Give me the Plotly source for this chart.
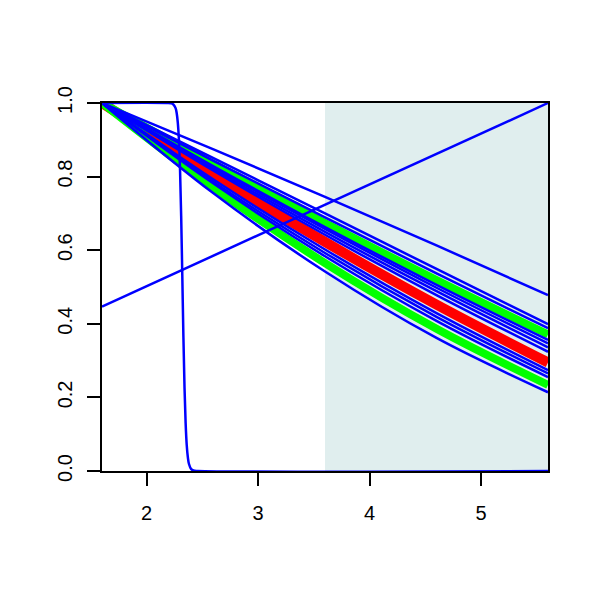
import plotly.graph_objects as go

x_pts = [1.6, 2.6, 3.6, 4.6, 5.6]

# descending blue curves (y at x_pts)
blue_curves = [
    [1.0, 0.874, 0.745, 0.613, 0.478],
    [1.0, 0.850, 0.700, 0.549, 0.399],
    [1.0, 0.843, 0.689, 0.537, 0.388],
    [1.0, 0.828, 0.663, 0.506, 0.356],
    [1.0, 0.825, 0.658, 0.498, 0.347],
    [1.0, 0.8205, 0.650, 0.4885, 0.336],
    [1.0, 0.816, 0.642, 0.478, 0.324],
    [1.0, 0.792, 0.602, 0.429, 0.274],
    [1.0, 0.786, 0.5925, 0.419, 0.265],
    [1.0, 0.781, 0.5835, 0.408, 0.255],
    [1.0, 0.7545, 0.542, 0.3615, 0.214],
]
green_curves = [
    [1.0, 0.834, 0.674, 0.519, 0.371],
    [1.0, 0.7695, 0.565, 0.3865, 0.234],
]
red_curve = [1.0, 0.805, 0.6225, 0.452, 0.295]

# rising straight line
rise_x = [1.6, 5.6]
rise_y = [0.447, 1.0]

# steep step-like curve
step_x = [1.6, 2.18, 2.22, 2.24, 2.26, 2.27, 2.28, 2.29, 2.30, 2.31, 2.32, 2.33,
          2.34, 2.35, 2.36, 2.37, 2.38, 2.40, 2.42, 2.46, 5.6]
step_y = [1.0, 1.0, 0.999, 0.996, 0.986, 0.972, 0.946, 0.899, 0.818, 0.693, 0.534,
          0.367, 0.227, 0.130, 0.070, 0.037, 0.019, 0.005, 0.0013, 0.0, 0.0]

# shaded region
shade_x = [3.6, 5.6]

x_ticks = [2, 3, 4, 5]
y_ticks = [0.0, 0.2, 0.4, 0.6, 0.8, 1.0]

BLUE = "#0000ff"
GREEN = "#00ff00"
RED = "#ff0000"

fig = go.Figure()
fig.add_trace(go.Scatter(x=x_pts, y=red_curve, mode="lines",
                         line=dict(color=RED, width=10, shape="spline"),
                         showlegend=False, hoverinfo="skip"))
for g in green_curves:
    fig.add_trace(go.Scatter(x=x_pts, y=g, mode="lines",
                             line=dict(color=GREEN, width=8, shape="spline"),
                             showlegend=False, hoverinfo="skip"))
for b in blue_curves:
    fig.add_trace(go.Scatter(x=x_pts, y=b, mode="lines",
                             line=dict(color=BLUE, width=2.5, shape="spline"),
                             showlegend=False, hoverinfo="skip"))
fig.add_trace(go.Scatter(x=rise_x, y=rise_y, mode="lines",
                         line=dict(color=BLUE, width=2.5),
                         showlegend=False, hoverinfo="skip"))
fig.add_trace(go.Scatter(x=step_x, y=step_y, mode="lines",
                         line=dict(color=BLUE, width=2.5, shape="spline"),
                         showlegend=False, hoverinfo="skip"))

fig.add_shape(type="rect", x0=shade_x[0], x1=shade_x[1], y0=0, y1=1,
              xref="x", yref="y", fillcolor="#e0eeee", line_width=0, layer="below")

axis_common = dict(showline=True, linecolor="black", linewidth=2, mirror=True,
                   ticks="outside", ticklen=13, tickwidth=2, tickcolor="black",
                   showgrid=False, zeroline=False,
                   tickfont=dict(family="Liberation Sans, Arial, sans-serif",
                                 size=20, color="black"))

fig.update_layout(
    width=600, height=600,
    margin=dict(l=94, r=60, t=95, b=137),
    paper_bgcolor="white", plot_bgcolor="white",
    xaxis=dict(range=[1.6, 5.6], tickvals=x_ticks, ticktext=[str(v) for v in x_ticks],
               ticklabelstandoff=10, **axis_common),
    yaxis=dict(range=[0, 1], tickvals=y_ticks, ticktext=[f"{v:.1f}" for v in y_ticks],
               tickangle=-90, ticklabelstandoff=7, **axis_common),
)

fig.write_html("out.html")
